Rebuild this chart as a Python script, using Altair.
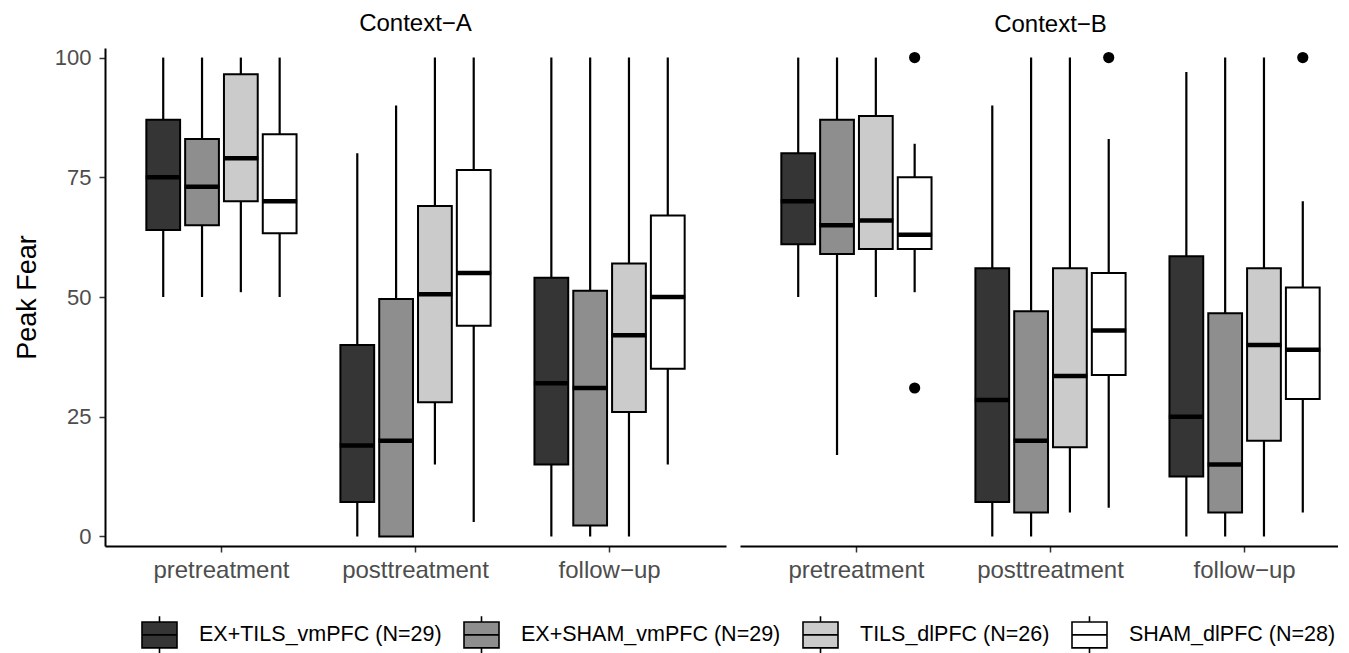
import altair as alt
import pandas as pd

contexts = ["Context−A", "Context−B"]
times = ["pretreatment", "posttreatment", "follow−up"]
groups = ["EX+TILS_vmPFC (N=29)", "EX+SHAM_vmPFC (N=29)", "TILS_dlPFC (N=26)", "SHAM_dlPFC (N=28)"]
fills = ["#353535", "#8e8e8e", "#cbcbcb", "#ffffff"]

# order: Context-A (pre g1..g4, post g1..g4, follow g1..g4), then Context-B
lower = [50, 50, 51, 50,   0, 0, 15, 3,       0, 0, 0, 15,
         50, 17, 50, 51,   0, 0, 5, 6,        0, 0, 0, 5]
q1 = [64, 65, 70, 63.3,    7.2, 0, 28, 44,    15, 2.3, 26, 35,
      61, 59, 60, 60,      7.2, 5, 18.6, 33.7, 12.5, 5, 20, 28.7]
median = [75, 73, 79, 70,  19, 20, 50.6, 55,  32, 31, 42, 50,
          70, 65, 66, 63,  28.5, 20, 33.5, 43, 25, 15, 40, 39]
q3 = [87, 83, 96.5, 84,    40, 49.6, 69, 76.5, 54, 51.3, 57, 67,
      80, 87, 87.8, 75,    56, 47, 56, 55,     58.5, 46.6, 56, 52]
upper = [100, 100, 100, 100, 80, 90, 100, 100, 100, 100, 100, 100,
         100, 100, 100, 82,  90, 100, 100, 83,  97, 100, 100, 70]

out_context = ["Context−B", "Context−B", "Context−B", "Context−B"]
out_time = ["pretreatment", "pretreatment", "posttreatment", "follow−up"]
out_group = ["SHAM_dlPFC (N=28)"] * 4
out_value = [100, 31, 100, 100]

rows = []
i = 0
for c in contexts:
    for t in times:
        for g in groups:
            rows.append(dict(context=c, time=t, group=g, lo=lower[i], q1=q1[i],
                             med=median[i], q3=q3[i], hi=upper[i]))
            i += 1
df = pd.DataFrame(rows)
outs = pd.DataFrame(dict(context=out_context, time=out_time, group=out_group, value=out_value))

FONT = "Liberation Sans"
LEGEND_SYMBOL = "M-1,-0.74H1V0.74H-1Z M-1,0H1 M0,-0.74V-1.06 M0,0.74V1.06"

yscale = alt.Scale(domain=[-2, 102], nice=False, zero=False)

W_A = 621
W_B = 598


def panel(ctx, first):
    d = df[df.context == ctx]
    o = outs[outs.context == ctx]
    if first:
        xscale = alt.Scale(domain=times, paddingInner=0.2, paddingOuter=0.2)
    else:
        # same step as panel A, right side trimmed
        xscale = alt.Scale(domain=times, paddingInner=0.2, paddingOuter=0.1407, align=0.7106)
    x = alt.X("time:N", sort=times, scale=xscale,
              axis=alt.Axis(title=None, labelAngle=0, tickSize=6, tickWidth=1.5,
                            tickColor="#333333", domainColor="black", domainWidth=2,
                            labelFontSize=24, labelColor="#4d4d4d", labelPadding=6,
                            labelFont=FONT, grid=False))
    xo = alt.XOffset("group:N", sort=groups,
                     scale=alt.Scale(domain=groups, paddingInner=0.13, paddingOuter=0.065))
    if first:
        yaxis = alt.Axis(values=[0, 25, 50, 75, 100], tickSize=6, tickWidth=1.5,
                         tickColor="#333333", domainColor="black", domainWidth=2,
                         labelFontSize=22, labelColor="#4d4d4d", labelPadding=8,
                         labelFont=FONT, titleFont=FONT, titleFontSize=27,
                         titleFontWeight="normal", titleColor="black",
                         titlePadding=13, grid=False)
    else:
        yaxis = None

    def Y(field):
        return alt.Y(field, scale=yscale, axis=yaxis, title="Peak Fear")

    base = alt.Chart(d)
    whisk = base.mark_rule(color="black", strokeWidth=2.2).encode(
        x=x, xOffset=xo, y=Y("lo:Q"), y2="hi:Q")
    box = base.mark_bar(stroke="black", strokeWidth=2, opacity=1).encode(
        x=x, xOffset=xo, y=Y("q1:Q"), y2="q3:Q",
        fill=alt.Fill("group:N", sort=groups,
                      scale=alt.Scale(domain=groups, range=fills),
                      legend=alt.Legend(title=None, orient="none", direction="horizontal",
                                        columns=4, legendX=36, legendY=568,
                                        symbolType=LEGEND_SYMBOL, symbolSize=1225,
                                        symbolStrokeColor="black", symbolStrokeWidth=1.6,
                                        symbolOpacity=1,
                                        labelFontSize=21.5, labelColor="black", labelFont=FONT,
                                        labelOffset=21, columnPadding=18, labelLimit=400)))
    med = base.mark_tick(color="black", thickness=4.5, size=35, opacity=1).encode(
        x=x, xOffset=xo, y=Y("med:Q"))
    layers = [whisk, box, med]
    if len(o):
        pts = alt.Chart(o).mark_circle(color="black", size=125, opacity=1).encode(
            x=x, xOffset=xo, y=Y("value:Q"))
        layers.append(pts)
    return alt.layer(*layers).properties(
        width=W_A if first else W_B, height=498,
        title=alt.TitleParams(text=ctx, fontSize=24, fontWeight="normal", color="black",
                              offset=11, anchor="middle", font=FONT,
                              dx=0 if first else (W_A - W_B) / 2))


chart = alt.hconcat(panel(contexts[0], True), panel(contexts[1], False), spacing=14) \
    .resolve_scale(fill="shared") \
    .properties(padding={"left": 5, "top": 3, "right": 0, "bottom": 0}) \
    .configure(font=FONT) \
    .configure_view(strokeWidth=0, stroke="transparent")

chart.save("out.html", embed_options={"renderer": "svg", "actions": False})
